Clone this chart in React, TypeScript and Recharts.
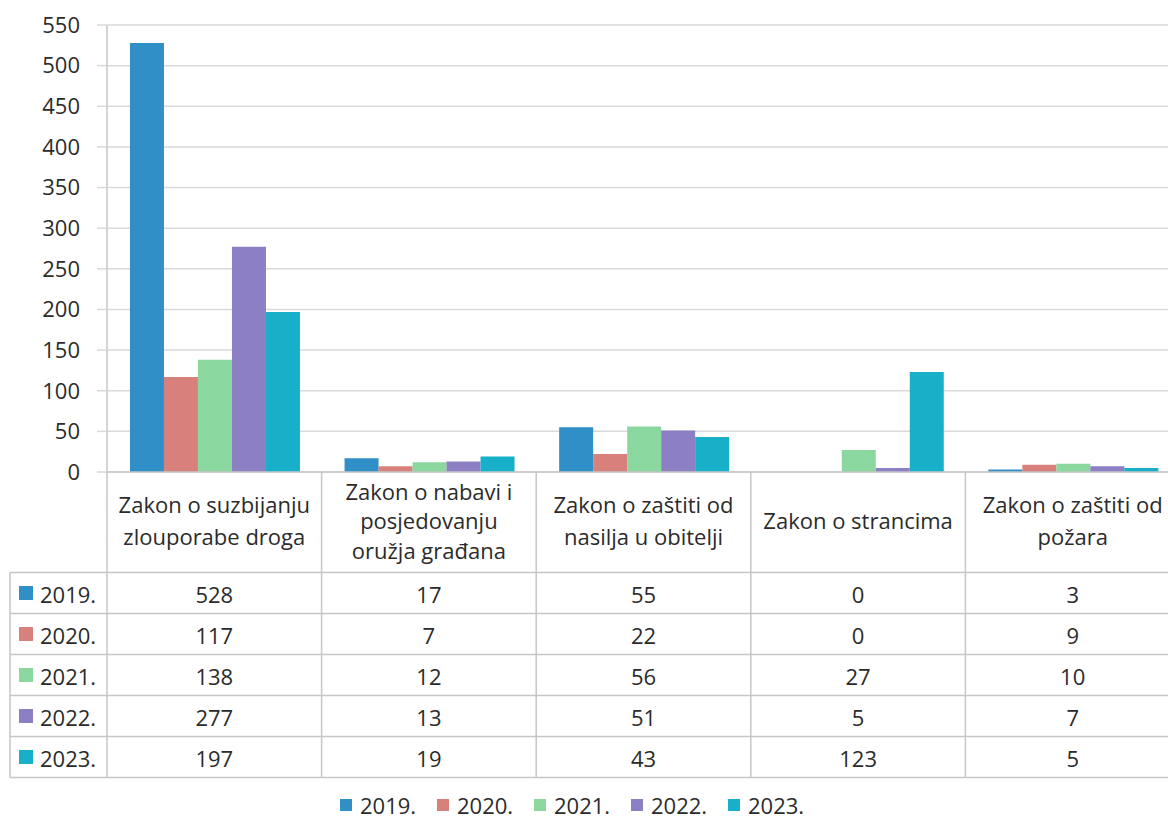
import { BarChart, Bar, XAxis, YAxis, CartesianGrid, Legend } from 'recharts';

const CATEGORIES = [
  'Zakon o suzbijanju zlouporabe droga',
  'Zakon o nabavi i posjedovanju oružja građana',
  'Zakon o zaštiti od nasilja u obitelji',
  'Zakon o strancima',
  'Zakon o zaštiti od požara',
];

// how each category label wraps in the table header
const CATEGORY_LINES = [
  ['Zakon o suzbijanju', 'zlouporabe droga'],
  ['Zakon o nabavi i', 'posjedovanju', 'oružja građana'],
  ['Zakon o zaštiti od', 'nasilja u obitelji'],
  ['Zakon o strancima'],
  ['Zakon o zaštiti od', 'požara'],
];

const YEARS = ['2019.', '2020.', '2021.', '2022.', '2023.'];

const V2019 = [528, 17, 55, 0, 3];
const V2020 = [117, 7, 22, 0, 9];
const V2021 = [138, 12, 56, 27, 10];
const V2022 = [277, 13, 51, 5, 7];
const V2023 = [197, 19, 43, 123, 5];

const Y_TICKS = [0, 50, 100, 150, 200, 250, 300, 350, 400, 450, 500, 550];

const COLORS = ['#2f8fc6', '#d8807c', '#8bd7a0', '#8c7fc4', '#17b0c8'];

const SERIES = [V2019, V2020, V2021, V2022, V2023];
const KEYS = ['y2019', 'y2020', 'y2021', 'y2022', 'y2023'];

const data = CATEGORIES.map((name, i) => {
  const row: Record<string, string | number> = { name };
  KEYS.forEach((k, s) => {
    row[k] = SERIES[s][i];
  });
  return row;
});

const CHART_W = 1180;
const CHART_H = 821;
const Y_AXIS_W = 107;
const BAND = (CHART_W - Y_AXIS_W) / CATEGORIES.length;
const FONT = '"Open Sans", sans-serif';
const FS = 22;
const TEXT = '#2b2b2b';
const LINE = '#c6c6c6';

const HEADER_H = 100.5;
const ROW_H = 41;

const TableTick = (props: any) => {
  const { x, y, payload } = props;
  const i = payload.index;
  const left = x - BAND / 2;
  const right = x + BAND / 2;
  const lines = CATEGORY_LINES[i];
  const lh = lines.length > 2 ? 29.5 : 32;
  const mid = y + 48;
  const bottom = y + HEADER_H + ROW_H * YEARS.length;

  return (
    <g>
      {i === 0 && (
        <g>
          <line x1={left} x2={left} y1={y} y2={bottom} stroke={LINE} strokeWidth={1.5} />
          <line x1={10} x2={10} y1={y + HEADER_H} y2={bottom} stroke={LINE} strokeWidth={1.5} />
          {YEARS.map((yr, r) => (
            <g key={yr}>
              <line x1={10} x2={left} y1={y + HEADER_H + ROW_H * r} y2={y + HEADER_H + ROW_H * r} stroke={LINE} strokeWidth={1.5} />
              <rect x={19} y={y + HEADER_H + ROW_H * r + 13.5} width={14} height={14} fill={COLORS[r]} />
              <text x={40} y={y + HEADER_H + ROW_H * r + 21} dominantBaseline="central" fontSize={FS} fontFamily={FONT} fill={TEXT}>
                {yr}
              </text>
            </g>
          ))}
          <line x1={10} x2={left} y1={bottom} y2={bottom} stroke={LINE} strokeWidth={1.5} />
        </g>
      )}
      <line x1={right} x2={right} y1={y} y2={bottom} stroke={LINE} strokeWidth={1.5} />
      {lines.map((t, k) => (
        <text
          key={k}
          x={x}
          y={mid + (k - (lines.length - 1) / 2) * lh}
          textAnchor="middle"
          dominantBaseline="central"
          fontSize={FS}
          fontFamily={FONT}
          fill={TEXT}
        >
          {t}
        </text>
      ))}
      {SERIES.map((vals, r) => (
        <g key={r}>
          <line x1={left} x2={right} y1={y + HEADER_H + ROW_H * r} y2={y + HEADER_H + ROW_H * r} stroke={LINE} strokeWidth={1.5} />
          <text
            x={x}
            y={y + HEADER_H + ROW_H * r + 21}
            textAnchor="middle"
            dominantBaseline="central"
            fontSize={FS}
            fontFamily={FONT}
            fill={TEXT}
          >
            {vals[i]}
          </text>
        </g>
      ))}
      <line x1={left} x2={right} y1={bottom} y2={bottom} stroke={LINE} strokeWidth={1.5} />
    </g>
  );
};

const LegendContent = () => (
  <div style={{ position: 'relative', height: 30, fontFamily: FONT, fontSize: FS, color: TEXT }}>
    {YEARS.map((yr, i) => (
      <div
        key={yr}
        style={{
          position: 'absolute',
          left: 340 + i * 97,
          top: 0,
          height: 28,
          lineHeight: '28px',
          display: 'flex',
          alignItems: 'center',
          whiteSpace: 'nowrap',
        }}
      >
        <span style={{ display: 'inline-block', width: 12, height: 12, background: COLORS[i], marginRight: 8 }} />
        <span>{yr}</span>
      </div>
    ))}
  </div>
);

export default function App() {
  return (
    <div style={{ position: 'absolute', left: 0, top: 0, width: 1168, height: 821, overflow: 'hidden', background: '#fff' }}>
      <BarChart
        width={CHART_W}
        height={CHART_H}
        data={data}
        margin={{ top: 25, right: 0, bottom: 0, left: 0 }}
        barGap={0}
        barCategoryGap="10.7%"
      >
        <CartesianGrid vertical={false} stroke="#d9d9d9" strokeWidth={1.5} />
        <YAxis
          width={Y_AXIS_W}
          domain={[0, 550]}
          ticks={Y_TICKS}
          interval={0}
          tickSize={10}
          tickMargin={17}
          axisLine={{ stroke: LINE, strokeWidth: 1.5 }}
          tickLine={{ stroke: '#d9d9d9', strokeWidth: 1.5 }}
          tick={{ fontSize: FS, fontFamily: FONT, fill: TEXT }}
        />
        <XAxis
          dataKey="name"
          height={CHART_H - 25 - 447 - 30}
          interval={0}
          tickSize={0}
          tickMargin={0}
          tickLine={false}
          axisLine={{ stroke: LINE, strokeWidth: 1.5 }}
          tick={<TableTick />}
        />
        <Legend verticalAlign="bottom" content={<LegendContent />} wrapperStyle={{ height: 30 }} />
        {KEYS.map((k, s) => (
          <Bar key={k} dataKey={k} name={YEARS[s]} fill={COLORS[s]} isAnimationActive={false} />
        ))}
      </BarChart>
    </div>
  );
}
